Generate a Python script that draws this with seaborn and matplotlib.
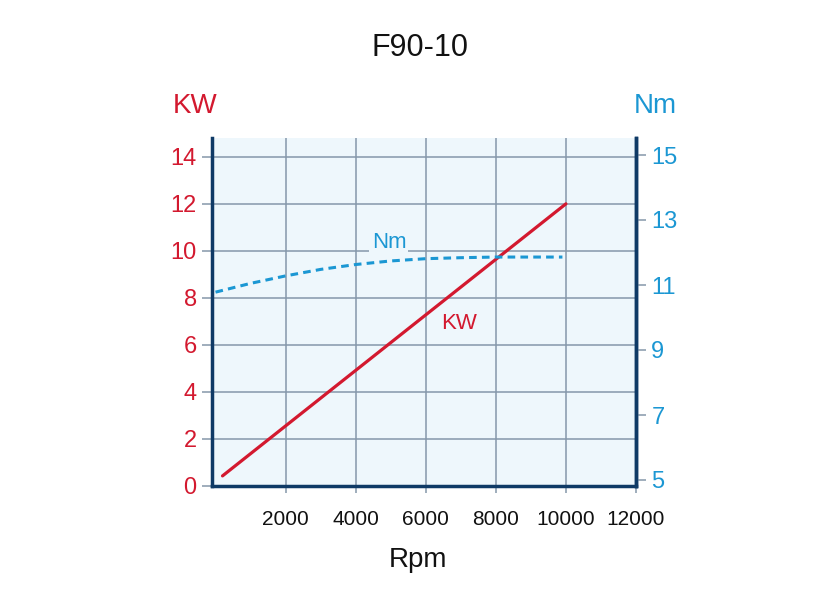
import matplotlib
matplotlib.use("Agg")
import matplotlib.pyplot as plt
import seaborn as sns
import pandas as pd

# ---- data ----
kw_rpm = [200, 10000]
kw_values = [0.43, 12.0]

nm_rpm = [0, 1000, 2000, 3000, 4000, 5000, 6000, 7000, 8000, 9000, 9900]
nm_values = [10.78, 11.05, 11.28, 11.48, 11.63, 11.74, 11.81, 11.84, 11.86, 11.86, 11.86]

x_ticks = [2000, 4000, 6000, 8000, 10000, 12000]
kw_ticks = [0, 2, 4, 6, 8, 10, 12, 14]
nm_ticks = [5, 7, 9, 11, 13, 15]

title = "F90-10"
x_label = "Rpm"
left_label = "KW"
right_label = "Nm"

# ---- style ----
sns.set_theme(style="white")
plt.rcParams['font.family'] = ['Liberation Sans', 'DejaVu Sans']

RED = "#d3192f"
BLUE = "#1b97d3"
NAVY = "#0f3a66"
GRID = "#8597aa"
BG = "#eef7fc"

fig = plt.figure(figsize=(8.3, 6.0), dpi=100)
ax = fig.add_axes([212/830, 1-486/600, (636-212)/830, (486-138)/600])
ax.set_facecolor(BG)

kw_df = pd.DataFrame({"rpm": kw_rpm, "kw": kw_values})
sns.lineplot(data=kw_df, x="rpm", y="kw", ax=ax, color=RED, linewidth=2.3)

ax.set_xlim(-100, 11930)
ax.set_ylim(0, 14.8)
ax.set_xticks(x_ticks)
ax.set_yticks(kw_ticks)
ax.grid(True, color=GRID, linewidth=1.1)
ax.set_axisbelow(True)
ax.set_xlabel("")
ax.set_ylabel("")

ax.tick_params(axis='x', length=5, color=GRID, width=1.1, pad=12,
               labelsize=15, labelcolor="#111111", direction='out', bottom=True)
ax.tick_params(axis='y', length=7, color=GRID, width=1.1, pad=4,
               labelsize=17, labelcolor=RED, direction='out', left=True)

for side in ["left", "right", "bottom"]:
    ax.spines[side].set_color(NAVY)
    ax.spines[side].set_linewidth(2.5)
ax.spines["top"].set_visible(False)

ax2 = ax.twinx()
nm_df = pd.DataFrame({"rpm": nm_rpm, "nm": nm_values})
sns.lineplot(data=nm_df, x="rpm", y="nm", ax=ax2, color=BLUE, linewidth=2.2,
             linestyle=(0, (2.5, 1.7)), zorder=3)
ax2.set_ylim(5 - 6/32.5, 15 + 17/32.5)
ax2.set_yticks(nm_ticks)
ax2.set_ylabel("")
ax2.tick_params(axis='y', length=7, color=GRID, width=1.1, pad=4,
                labelsize=17, labelcolor=BLUE, direction='out', right=True)
for side in ["left", "right", "bottom", "top"]:
    ax2.spines[side].set_visible(False)
ax2.spines["right"].set_visible(True)
ax2.spines["right"].set_color(NAVY)
ax2.spines["right"].set_linewidth(2.5)

# in-plot labels
ax2.text(4950, 12.3, "Nm", color=BLUE, fontsize=16, ha='center', va='center', zorder=2,
         bbox=dict(boxstyle='square,pad=0.1', facecolor=BG, edgecolor='none'))
ax.text(6950, 6.9, "KW", color=RED, fontsize=16, ha='center', va='center')

fig.text(420/830, 1-48/600, title, fontsize=22, ha='center', va='center', color="#111111")
fig.text(195/830, 1-106/600, left_label, fontsize=20, ha='center', va='center', color=RED)
fig.text(655/830, 1-106/600, right_label, fontsize=20, ha='center', va='center', color=BLUE)
fig.text(418/830, 1-560/600, x_label, fontsize=20, ha='center', va='center', color="#111111")

fig.savefig("out.png", dpi=100)
